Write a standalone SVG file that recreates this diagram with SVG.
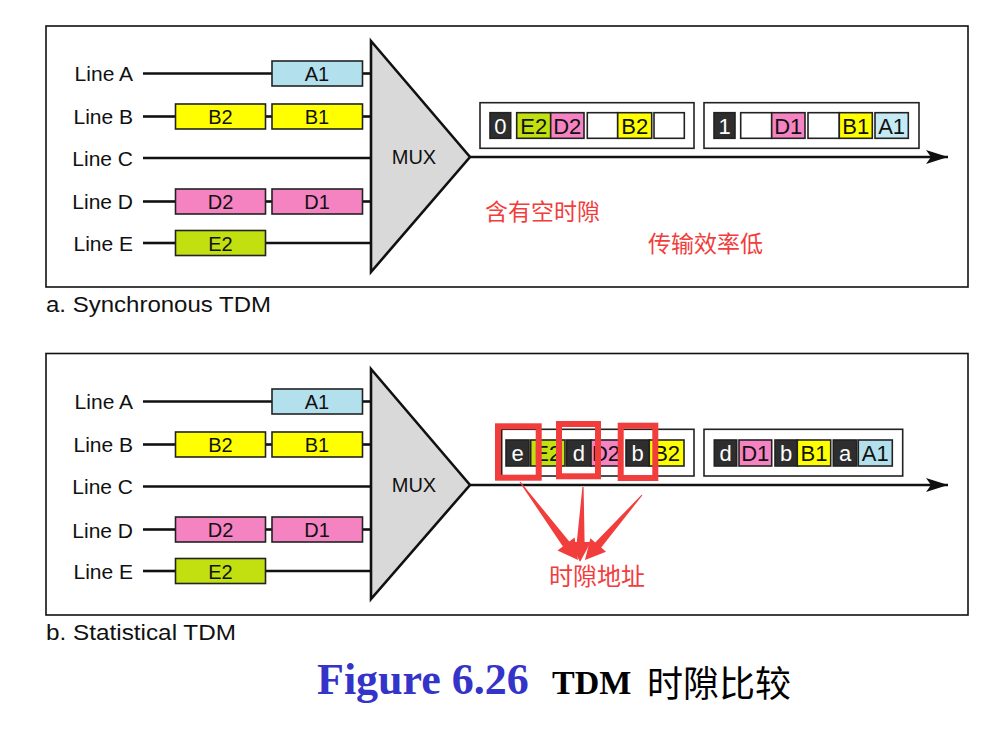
<svg xmlns="http://www.w3.org/2000/svg" width="991" height="729" viewBox="0 0 991 729">
<style>
.panel{fill:#fff;stroke:#111;stroke-width:1.6}
.ln{stroke:#111;stroke-width:2.6;fill:none}
.box{stroke:#222;stroke-width:1.6}
.lbl{font-family:"Liberation Sans",Arial,sans-serif;font-size:21px;fill:#111}
.bt{font-family:"Liberation Sans",Arial,sans-serif;font-size:20px;fill:#111;text-anchor:middle}
.st{font-family:"Liberation Sans",Arial,sans-serif;font-size:22px;fill:#111;text-anchor:middle}
.sw{fill:#fff}
.mux{fill:#d9d9d9;stroke:#111;stroke-width:2.6;stroke-linejoin:miter}
.frame{fill:#fff;stroke:#222;stroke-width:1.6}
.dk{fill:#2e2e2e}
.gr{fill:#c2e00f}
.pk{fill:#f583c2}
.yl{fill:#ffff00}
.bl{fill:#b3e0ed}
.bl2{fill:#c6eaf4}
.wh{fill:#fff}
.red{font-family:"Noto Sans CJK SC",sans-serif;fill:#f23d3d}
.rbox{fill:none;stroke:#f23d3d;stroke-width:6}
.cap{font-family:"Liberation Sans",Arial,sans-serif;font-size:22px;fill:#111}
</style>
<defs>
<marker id="ah" markerUnits="userSpaceOnUse" markerWidth="24" markerHeight="16" refX="22" refY="7" orient="auto">
<path d="M0,0 L22,7 L0,14 L5,7 z" fill="#111"/>
</marker>
</defs>

<!-- Panel a -->
<g id="panel-a">
<rect class="panel" x="46" y="26" width="922" height="261"/>
</g>
<g id="a-labels">
<text class="lbl" x="133" y="81" text-anchor="end">Line A</text>
<text class="lbl" x="133" y="124" text-anchor="end">Line B</text>
<text class="lbl" x="133" y="166" text-anchor="end">Line C</text>
<text class="lbl" x="133" y="209" text-anchor="end">Line D</text>
<text class="lbl" x="133" y="251" text-anchor="end">Line E</text>
</g>
<g id="a-connectors">
<line class="ln" x1="143" y1="73.5" x2="272" y2="73.5"/>
<line class="ln" x1="362" y1="73.5" x2="371" y2="73.5"/>
<line class="ln" x1="143" y1="116.5" x2="175" y2="116.5"/>
<line class="ln" x1="265.5" y1="116.5" x2="272" y2="116.5"/>
<line class="ln" x1="362" y1="116.5" x2="371" y2="116.5"/>
<line class="ln" x1="143" y1="158" x2="371" y2="158"/>
<line class="ln" x1="143" y1="201.5" x2="175" y2="201.5"/>
<line class="ln" x1="265.5" y1="201.5" x2="272" y2="201.5"/>
<line class="ln" x1="362" y1="201.5" x2="371" y2="201.5"/>
<line class="ln" x1="143" y1="243" x2="175" y2="243"/>
<line class="ln" x1="265.5" y1="243" x2="371" y2="243"/>
<line class="ln" x1="470" y1="157" x2="948" y2="157" marker-end="url(#ah)"/>
</g>
<g id="a-A1"><rect class="box bl" x="272" y="61" width="90.5" height="25"/><text class="bt" x="317" y="81">A1</text></g>
<g id="a-B2"><rect class="box yl" x="175.5" y="104" width="90" height="25"/><text class="bt" x="220.5" y="124">B2</text></g>
<g id="a-B1"><rect class="box yl" x="272" y="104" width="90.5" height="25"/><text class="bt" x="317" y="124">B1</text></g>
<g id="a-D2"><rect class="box pk" x="175.5" y="189" width="90" height="25"/><text class="bt" x="220.5" y="209">D2</text></g>
<g id="a-D1"><rect class="box pk" x="272" y="189" width="90.5" height="25"/><text class="bt" x="317" y="209">D1</text></g>
<g id="a-E2"><rect class="box gr" x="175.5" y="230.5" width="90" height="25"/><text class="bt" x="220.5" y="250.5">E2</text></g>
<g id="a-mux"><polygon class="mux" points="371,41 470,157 371,272"/><text class="bt" x="414" y="164">MUX</text></g>
<g id="a-frame1">
<rect class="frame" x="480" y="102.7" width="214" height="45.6"/>
<rect class="box dk" x="490" y="112.7" width="20.7" height="25.6"/><text class="st sw" x="500.3" y="133.5">0</text>
<rect class="box gr" x="516.7" y="112.7" width="34" height="25.6"/><text class="st" x="533.7" y="133.5">E2</text>
<rect class="box pk" x="550.7" y="112.7" width="33.3" height="25.6"/><text class="st" x="567.3" y="133.5">D2</text>
<rect class="box wh" x="587.3" y="112.7" width="30.4" height="25.6"/>
<rect class="box yl" x="617.7" y="112.7" width="34" height="25.6"/><text class="st" x="634.7" y="133.5">B2</text>
<rect class="box wh" x="654" y="112.7" width="30.3" height="25.6"/>
</g>
<g id="a-frame2">
<rect class="frame" x="704" y="102.7" width="215" height="45.6"/>
<rect class="box dk" x="714" y="112.7" width="21" height="25.6"/><text class="st sw" x="724.5" y="133.5">1</text>
<rect class="box wh" x="740.7" y="112.7" width="31" height="25.6"/>
<rect class="box pk" x="771.7" y="112.7" width="33.3" height="25.6"/><text class="st" x="788.3" y="133.5">D1</text>
<rect class="box wh" x="808" y="112.7" width="31.3" height="25.6"/>
<rect class="box yl" x="839.3" y="112.7" width="33" height="25.6"/><text class="st" x="855.8" y="133.5">B1</text>
<rect class="box bl2" x="875" y="112.7" width="33.3" height="25.6"/><text class="st" x="891.6" y="133.5">A1</text>
</g>
<g id="a-notes">
<text class="red" x="485" y="220" font-size="23">含有空时隙</text>
<text class="red" x="648" y="252" font-size="23">传输效率低</text>
</g>
<text class="cap" x="46" y="312" textLength="225" lengthAdjust="spacingAndGlyphs">a. Synchronous TDM</text>

<!-- Panel b -->
<g id="panel-b">
<rect class="panel" x="46" y="353.5" width="922" height="261.5"/>
</g>
<g id="b-labels">
<text class="lbl" x="133" y="409" text-anchor="end">Line A</text>
<text class="lbl" x="133" y="452" text-anchor="end">Line B</text>
<text class="lbl" x="133" y="494" text-anchor="end">Line C</text>
<text class="lbl" x="133" y="538" text-anchor="end">Line D</text>
<text class="lbl" x="133" y="579" text-anchor="end">Line E</text>
</g>
<g id="b-connectors">
<line class="ln" x1="143" y1="401.5" x2="272" y2="401.5"/>
<line class="ln" x1="362" y1="401.5" x2="371" y2="401.5"/>
<line class="ln" x1="143" y1="444.5" x2="175" y2="444.5"/>
<line class="ln" x1="265.5" y1="444.5" x2="272" y2="444.5"/>
<line class="ln" x1="362" y1="444.5" x2="371" y2="444.5"/>
<line class="ln" x1="143" y1="486.5" x2="371" y2="486.5"/>
<line class="ln" x1="143" y1="529.5" x2="175" y2="529.5"/>
<line class="ln" x1="265.5" y1="529.5" x2="272" y2="529.5"/>
<line class="ln" x1="362" y1="529.5" x2="371" y2="529.5"/>
<line class="ln" x1="143" y1="571" x2="175" y2="571"/>
<line class="ln" x1="265.5" y1="571" x2="371" y2="571"/>
<line class="ln" x1="470" y1="485" x2="948" y2="485" marker-end="url(#ah)"/>
</g>
<g id="b-A1"><rect class="box bl" x="272" y="389" width="90.5" height="25"/><text class="bt" x="317" y="409">A1</text></g>
<g id="b-B2"><rect class="box yl" x="175.5" y="432" width="90" height="25"/><text class="bt" x="220.5" y="452">B2</text></g>
<g id="b-B1"><rect class="box yl" x="272" y="432" width="90.5" height="25"/><text class="bt" x="317" y="452">B1</text></g>
<g id="b-D2"><rect class="box pk" x="175.5" y="517" width="90" height="25"/><text class="bt" x="220.5" y="537">D2</text></g>
<g id="b-D1"><rect class="box pk" x="272" y="517" width="90.5" height="25"/><text class="bt" x="317" y="537">D1</text></g>
<g id="b-E2"><rect class="box gr" x="175.5" y="558.5" width="90" height="25"/><text class="bt" x="220.5" y="578.5">E2</text></g>
<g id="b-mux"><polygon class="mux" points="371,369 470,485 371,599"/><text class="bt" x="414" y="492">MUX</text></g>
<g id="b-frame1">
<rect class="frame" x="501.7" y="429.3" width="192.3" height="46.7"/>
<rect class="box dk" x="506" y="440" width="23" height="26"/><text class="st sw" x="517.5" y="461">e</text>
<rect class="box gr" x="530.7" y="440" width="34.3" height="26"/><text class="st" x="547.8" y="461">E2</text>
<rect class="box dk" x="566.7" y="440" width="24.3" height="26"/><text class="st sw" x="578.8" y="461">d</text>
<rect class="box pk" x="591" y="440" width="30" height="26"/><text class="st" x="606" y="461">D2</text>
<rect class="box dk" x="626" y="440" width="23.3" height="26"/><text class="st sw" x="637.6" y="461">b</text>
<rect class="box yl" x="649.3" y="440" width="34.7" height="26"/><text class="st" x="666.6" y="461">B2</text>
</g>
<g id="b-frame2">
<rect class="frame" x="704" y="429.3" width="198.7" height="46.7"/>
<rect class="box dk" x="714.3" y="440" width="22.4" height="26"/><text class="st sw" x="725.5" y="461">d</text>
<rect class="box pk" x="739" y="440" width="32.7" height="26"/><text class="st" x="755.3" y="461">D1</text>
<rect class="box dk" x="775" y="440" width="22.3" height="26"/><text class="st sw" x="786.1" y="461">b</text>
<rect class="box yl" x="797.3" y="440" width="33.4" height="26"/><text class="st" x="814" y="461">B1</text>
<rect class="box dk" x="833.3" y="440" width="23.4" height="26"/><text class="st sw" x="845" y="461">a</text>
<rect class="box bl" x="858.3" y="440" width="34" height="26"/><text class="st" x="875.3" y="461">A1</text>
</g>
<g id="b-highlights">
<rect class="rbox" x="498" y="426.3" width="40.7" height="51.4"/>
<rect class="rbox" x="559" y="424" width="39" height="52.3"/>
<rect class="rbox" x="620.7" y="425.7" width="34.6" height="52.3"/>
</g>
<g id="b-arrows" fill="#f23d3d">
<polygon points="519.6,482.3 562.9,546.4 557.5,550.5 578,560 574.6,537.5 569.3,541.6 520.4,481.7"/>
<polygon points="582.4,487 576.8,542 570.5,542 580,562 590.8,542 584.6,542 583.6,487"/>
<polygon points="642.4,495.3 601.2,547.6 606,551.8 585,560 590.4,538.2 595.2,542.4 641.6,494.7"/>
</g>
<g id="b-note"><text class="red" x="549" y="585" font-size="24">时隙地址</text></g>
<text class="cap" x="46" y="640" textLength="190" lengthAdjust="spacingAndGlyphs">b. Statistical TDM</text>

<!-- Caption -->
<g id="caption">
<text x="317" y="694" font-family="'Liberation Serif','Times New Roman',serif" font-weight="bold" font-size="44" fill="#3434c8">Figure 6.26</text>
<text x="552" y="694" font-family="'Liberation Serif','Times New Roman',serif" font-weight="bold" font-size="34" fill="#000">TDM</text>
<text x="647" y="697" font-family="'Noto Sans CJK SC',sans-serif" font-size="36" fill="#000">时隙比较</text>
</g>
</svg>
